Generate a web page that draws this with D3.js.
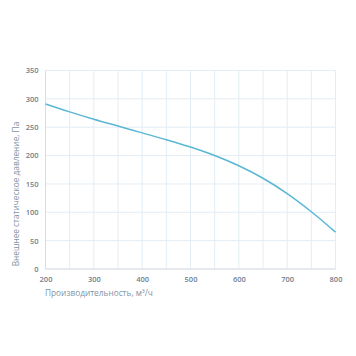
<!DOCTYPE html>
<html><head><meta charset="utf-8">
<script src="https://cdn.jsdelivr.net/npm/d3@7"></script>
<style>
html,body{margin:0;padding:0;background:#fff;}
text{font-family:"Open Sans",sans-serif;}
</style></head>
<body><svg id="c" width="356" height="356"></svg>
<script>
const flow = [200,250,300,350,400,450,500,550,600,650,700,750,800];
const pressure = [291,277,264,252,240,228,215,200,182,160,133,101,65];
const xTicks = [200,300,400,500,600,700,800];
const yTicks = [0,50,100,150,200,250,300,350];
const xTitle = "Производительность, м³/ч";
const yTitle = "Внешнее статическое давление, Па";

const svg = d3.select("#c");
const x = d3.scaleLinear().domain([200,800]).range([45.5,335.5]);
const y = d3.scaleLinear().domain([0,350]).range([269,70.5]);

const g = svg.append("g");
g.selectAll(".vg").data(d3.range(200,801,50)).join("line")
  .attr("x1",d=>x(d)).attr("x2",d=>x(d)).attr("y1",y(0)).attr("y2",y(350))
  .attr("stroke","#e3edf4").attr("stroke-width",1);
g.selectAll(".hg").data(yTicks).join("line")
  .attr("x1",x(200)).attr("x2",x(800)).attr("y1",d=>y(d)).attr("y2",d=>y(d))
  .attr("stroke","#e3edf4").attr("stroke-width",1);
g.append("line").attr("x1",x(200)).attr("x2",x(800)).attr("y1",y(0)).attr("y2",y(0)).attr("stroke","#d8dde2");
g.append("line").attr("x1",x(200)).attr("x2",x(200)).attr("y1",y(0)).attr("y2",y(350)).attr("stroke","#d8dde2");

const xa = svg.append("g").attr("transform",`translate(0,${y(0)})`)
  .call(d3.axisBottom(x).tickValues(xTicks).tickSize(0).tickPadding(8));
xa.select(".domain").remove();
xa.selectAll("text").attr("fill","#6f7f8d").attr("font-size","7.5px").attr("font-weight","600");
const ya = svg.append("g").attr("transform",`translate(${x(200)},0)`)
  .call(d3.axisLeft(y).tickValues(yTicks).tickSize(0).tickPadding(7));
ya.select(".domain").remove();
ya.selectAll("text").attr("fill","#6f7f8d").attr("font-size","7.5px").attr("font-weight","600");

svg.append("text").attr("x",45).attr("y",296).attr("fill","#7f93a6")
  .attr("font-size","8.3px").text(xTitle);
svg.append("text").attr("transform","translate(19,194) rotate(-90)")
  .attr("text-anchor","middle").attr("fill","#7f93a6").attr("font-size","8.3px").text(yTitle);

const line = d3.line().x((d,i)=>x(flow[i])).y(d=>y(d)).curve(d3.curveMonotoneX);
svg.append("path").datum(pressure).attr("d",line).attr("fill","none")
  .attr("stroke","#5ab7d3").attr("stroke-width",1.5);
</script></body></html>
